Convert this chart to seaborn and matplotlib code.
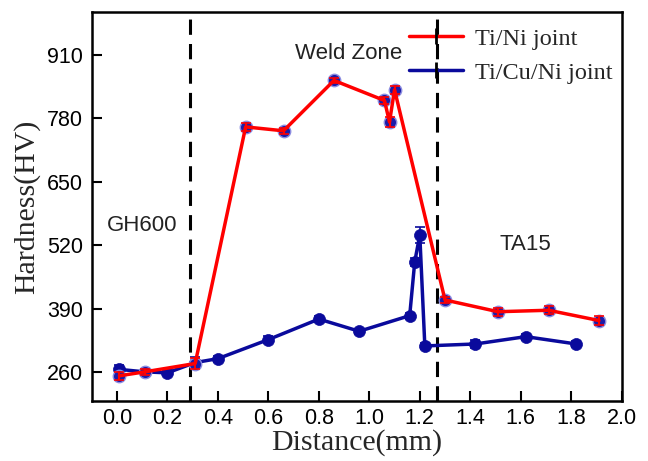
import numpy as np
import pandas as pd
import matplotlib
matplotlib.use("Agg")
import matplotlib.pyplot as plt
import seaborn as sns
from matplotlib.lines import Line2D

# ---- data ----
tini_x = [0.01, 0.11, 0.31, 0.51, 0.66, 0.86, 1.06, 1.08, 1.10, 1.30, 1.51, 1.71, 1.91]
tini_y = [253, 261, 278, 762, 754, 857, 816, 772, 838, 408, 384, 387, 366]
tini_err = [8, 6, 12, 8, 6, 6, 8, 10, 8, 6, 8, 8, 10]

ticuni_x = [0.01, 0.11, 0.20, 0.31, 0.40, 0.60, 0.80, 0.96, 1.16, 1.18, 1.20, 1.22, 1.42, 1.62, 1.82]
ticuni_y = [266, 261, 259, 280, 288, 327, 369, 344, 376, 486, 541, 314, 318, 333, 318]
ticuni_err = [10, 6, 5, 12, 6, 8, 6, 5, 6, 8, 17, 7, 8, 6, 6]

zone_lines = [0.29, 1.27]
zone_labels = ["GH600", "Weld Zone", "TA15"]
zone_label_x = [0.10, 0.92, 1.62]
zone_label_y = [561, 912, 521]

series_names = ["Ti/Ni joint", "Ti/Cu/Ni joint"]
yticks = [260, 390, 520, 650, 780, 910]
xticks = [0.0, 0.2, 0.4, 0.6, 0.8, 1.0, 1.2, 1.4, 1.6, 1.8, 2.0]

RED = "#ff0000"
BLUE = "#0a0a9c"

sns.set_style("ticks")
plt.rcParams["font.family"] = ["Liberation Sans", "DejaVu Sans"]

fig = plt.figure(figsize=(6.48, 4.61), dpi=100)
ax = fig.add_axes([0.1415, 0.1308, 0.9594 - 0.1415, 0.9729 - 0.1308])

df_red = pd.DataFrame({"x": tini_x, "y": tini_y})
df_blue = pd.DataFrame({"x": ticuni_x, "y": ticuni_y})

# blue series
ax.errorbar(ticuni_x, ticuni_y, yerr=ticuni_err, fmt="none", ecolor=BLUE,
            elinewidth=1.2, capsize=3.5, capthick=1.2, zorder=3)
sns.lineplot(data=df_blue, x="x", y="y", ax=ax, color=BLUE, linewidth=2.5,
             sort=False, zorder=4, legend=False)
sns.scatterplot(data=df_blue, x="x", y="y", ax=ax, color=BLUE, s=75,
                edgecolor=BLUE, linewidth=0.5, zorder=5, legend=False)

# red series (blue discs under red line and red error bars)
sns.scatterplot(data=df_red, x="x", y="y", ax=ax, color="#1c1ca8", s=80,
                edgecolor="#8c8ce0", linewidth=1.0, zorder=6, legend=False)
sns.lineplot(data=df_red, x="x", y="y", ax=ax, color=RED, linewidth=2.5,
             sort=False, zorder=7, legend=False)
ax.errorbar(tini_x, tini_y, yerr=tini_err, fmt="none", ecolor=RED,
            elinewidth=1.5, capsize=3.5, capthick=1.2, zorder=8)

# zone boundaries
for xv in zone_lines:
    ax.axvline(xv, color="black", linewidth=2.2, linestyle=(0, (5, 3)), zorder=2)

for t, xv, yv in zip(zone_labels, zone_label_x, zone_label_y):
    ax.text(xv, yv, t, ha="center", va="center", fontsize=16, color="#222222",
            family=["Liberation Sans", "DejaVu Sans"])

ax.set_xlim(-0.1, 2.0)
ax.set_ylim(202, 996)
ax.set_xticks(xticks)
ax.set_xticklabels([f"{v:.1f}" for v in xticks])
ax.set_yticks(yticks)
ax.set_yticklabels([str(v) for v in yticks])
ax.tick_params(direction="in", length=7, width=1.5, labelsize=15.5, colors="black",
               pad=6)
ax.tick_params(axis="x", pad=5)
for s in ax.spines.values():
    s.set_linewidth(1.8)
    s.set_color("black")

ax.set_xlabel("Distance(mm)", fontsize=21.5, family=["Liberation Serif"], labelpad=0)
ax.set_ylabel("Hardness(HV)", fontsize=21.5, family=["Liberation Serif"], labelpad=5)

handles = [
    (Line2D([], [], color=RED, linewidth=2.5), Line2D([], [], color="black", marker="|", markersize=11, linestyle="none", markeredgewidth=2)),
    (Line2D([], [], color=BLUE, linewidth=2.5), Line2D([], [], color="black", marker="|", markersize=11, linestyle="none", markeredgewidth=2)),
]
ax.legend(handles, series_names, loc="upper right", bbox_to_anchor=(1.015, 1.005),
          frameon=False, prop={"family": "Liberation Serif", "size": 17.5},
          handlelength=2.2, handletextpad=0.5, labelspacing=0.5, borderaxespad=0.3)

fig.savefig("out.png", dpi=100)
